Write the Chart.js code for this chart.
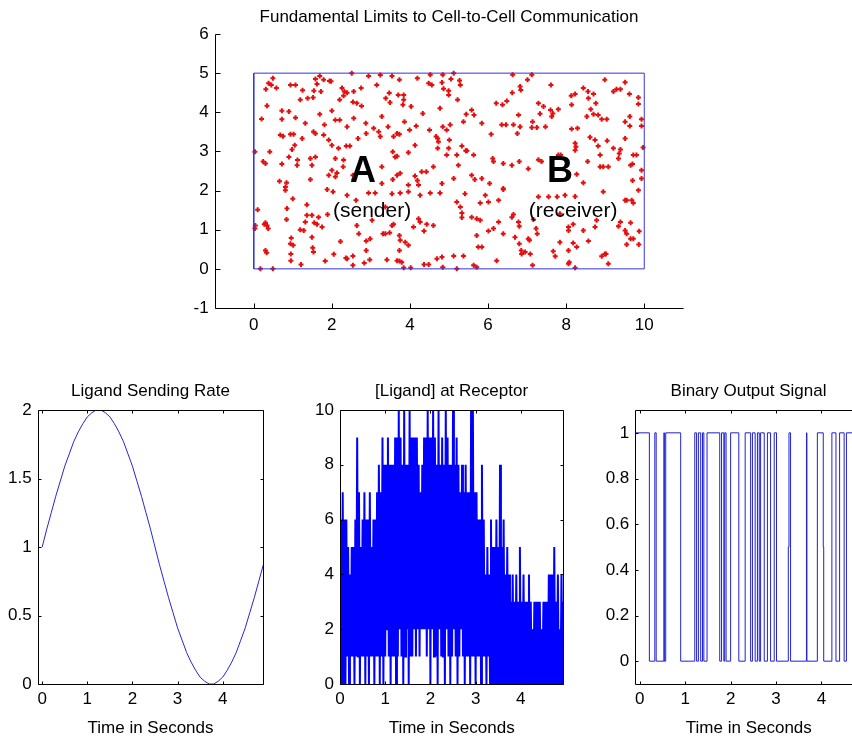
<!doctype html>
<html lang="en">
<head>
<meta charset="utf-8">
<title>Fundamental Limits to Cell-to-Cell Communication</title>
<script src="https://cdn.jsdelivr.net/npm/chart.js@4.4.0/dist/chart.umd.min.js"></script>
<style>
    html, body { margin: 0; padding: 0; background: #fff; overflow: hidden; }
    body { width: 852px; height: 740px; position: relative; }
    canvas { position: absolute; }
</style>
</head>
<body>
<canvas id="cellChart" width="898" height="340" style="left:0;top:0"></canvas>
<canvas id="rateChart" width="301" height="380" style="left:0;top:360px"></canvas>
<canvas id="ligandChart" width="323" height="380" style="left:290px;top:360px"></canvas>
<canvas id="binaryChart" width="337" height="380" style="left:580px;top:360px"></canvas>
<script>
// ---- data ----

// diffusing ligand molecules (x, y) in the 10 x 5 box
var molecules = [
    [0.49,4.87],[0.38,4.74],[0.45,4.70],[0.31,4.59],[0.58,4.62],[0.94,4.70],[1.07,4.70],[1.58,4.85],[1.69,4.93],[1.79,4.83],
    [1.94,4.80],[1.98,4.79],[1.62,4.72],[1.54,4.55],[1.72,4.53],[1.25,4.56],[2.51,5.00],[2.26,4.62],[2.32,4.53],[2.39,4.50],
    [2.56,4.53],[2.75,4.62],[2.94,4.93],[3.24,4.95],[3.54,4.93],[3.73,4.83],[3.15,4.70],[4.19,4.87],[4.52,4.96],[4.48,4.74],
    [4.56,4.70],[4.84,4.96],[4.82,4.76],[4.86,4.60],[5.12,5.00],[5.05,4.85],[5.27,4.81],[5.29,4.70],[4.99,4.55],[6.63,4.96],
    [7.12,4.96],[7.01,4.83],[6.82,4.66],[6.84,4.57],[6.62,4.50],[7.61,4.70],[8.44,4.62],[8.56,4.53],[8.99,4.83],[9.21,4.53],
    [9.29,4.59],[9.39,4.59],[9.51,4.77],[9.62,4.47],
    [0.34,4.17],[0.72,4.04],[0.90,4.02],[1.19,4.32],[1.38,4.36],[1.52,4.38],[2.20,4.32],[2.30,4.42],[2.64,4.23],[2.76,4.16],
    [2.54,4.26],[2.00,4.04],[3.38,4.36],[3.47,4.49],[3.49,4.25],[3.70,4.44],[3.84,4.44],[3.84,4.32],[3.82,4.19],[4.03,4.15],
    [4.33,3.97],[4.99,4.44],[5.22,4.32],[4.77,4.10],[6.21,4.23],[6.37,4.19],[6.48,4.29],[7.29,4.23],[7.42,4.15],[8.13,4.42],
    [8.23,4.47],[8.14,4.19],[8.70,4.47],[8.76,4.23],[8.63,4.08],[8.57,4.36],[9.85,4.38],[9.85,4.21],[7.60,4.06],
    [0.20,3.83],[0.72,3.82],[1.07,3.86],[1.32,3.72],[1.69,3.95],[1.81,3.68],[1.53,3.50],[2.09,3.80],[2.20,3.80],[2.39,3.63],
    [2.56,3.85],[2.87,3.72],[3.07,3.59],[3.28,3.89],[3.44,3.63],[3.86,3.76],[3.99,3.55],[4.16,3.65],[4.50,3.55],[4.84,3.63],
    [5.03,3.68],[4.94,3.55],[5.37,3.76],[5.44,3.95],[5.58,4.06],[5.64,3.93],[5.84,3.72],[6.35,3.68],[6.46,3.68],[6.65,3.68],
    [6.78,3.93],[6.82,3.63],[7.14,3.76],[7.12,3.61],[7.25,3.61],[7.33,3.96],[7.47,3.63],[7.63,3.89],[7.66,3.97],[7.80,4.08],
    [8.14,3.57],[8.29,3.59],[8.53,3.89],[8.70,3.95],[8.82,3.93],[8.91,3.82],[9.04,3.82],[9.51,3.76],[9.63,3.65],[9.63,3.89],
    [9.93,3.82],[9.93,3.65],
    [0.68,3.42],[0.75,3.39],[0.94,3.44],[1.02,3.44],[1.24,3.33],[1.05,3.16],[0.98,3.05],[1.58,3.46],[1.79,3.42],[1.92,3.29],
    [2.00,3.16],[2.17,3.08],[2.37,3.14],[2.46,3.14],[2.67,3.33],[2.88,3.46],[3.20,3.50],[3.24,3.38],[3.58,3.38],[3.67,3.46],
    [3.73,3.44],[3.56,2.99],[3.96,2.97],[4.13,3.16],[4.67,3.38],[4.71,3.33],[4.73,3.25],[4.71,3.08],[5.01,3.29],[4.99,3.08],
    [5.33,3.14],[5.43,3.02],[5.63,2.91],[6.08,3.44],[6.75,3.46],[8.23,3.21],[8.25,3.12],[8.23,3.03],[8.61,3.36],[8.74,3.29],
    [8.82,3.14],[8.87,2.91],[9.05,3.27],[9.21,3.08],[9.39,3.05],[9.36,2.95],[9.51,3.33],[9.72,2.91],[9.80,2.91],[9.97,3.10],
    [0.03,2.99],[0.41,2.99],
    [0.24,2.74],[0.30,2.69],[0.90,2.86],[0.72,2.68],[1.11,2.65],[1.12,2.78],[1.45,2.82],[1.58,2.86],[1.49,2.65],[2.00,2.52],
    [2.09,2.82],[2.30,2.78],[2.29,2.61],[3.28,2.61],[3.62,2.86],[3.67,2.88],[4.30,2.48],[4.60,2.61],[4.94,2.91],[5.20,2.91],
    [5.24,2.65],[5.46,3.02],[6.12,2.82],[6.14,2.74],[6.39,2.69],[6.61,2.65],[6.80,2.74],[7.03,2.56],[7.29,2.79],[7.37,2.74],
    [7.80,2.91],[7.86,2.91],[8.55,2.74],[8.87,2.61],[8.95,2.61],[9.08,2.61],[9.34,2.82],[9.65,2.65],[9.70,2.68],[9.93,2.52],
    [0.66,2.24],[0.84,2.20],[0.81,2.09],[1.45,2.28],[1.92,2.39],[2.09,2.35],[2.13,2.45],[2.56,2.28],[2.54,2.39],[3.28,2.18],
    [3.56,2.28],[3.67,2.39],[3.75,2.44],[3.96,2.14],[4.13,2.37],[4.19,2.26],[4.22,2.14],[4.42,2.48],[4.82,2.18],[5.12,2.31],
    [5.58,2.39],[5.66,2.28],[5.84,2.31],[6.04,2.18],[6.39,2.05],[8.27,2.42],[8.44,2.20],[8.95,1.97],[9.70,2.26],[9.93,2.31],
    [9.85,2.01],
    [0.81,2.01],[1.00,1.79],[0.85,1.54],[1.36,1.64],[1.88,2.03],[2.03,1.97],[2.39,1.88],[2.62,1.75],[2.94,1.94],[3.11,1.94],
    [3.37,1.58],[3.54,1.92],[3.75,1.94],[3.96,1.97],[4.26,1.88],[4.52,1.94],[4.77,1.94],[5.20,1.71],[5.41,1.92],[5.29,1.58],
    [5.80,1.68],[5.93,1.88],[6.01,1.71],[6.27,1.75],[6.39,2.03],[7.29,1.84],[7.55,1.84],[7.77,1.84],[7.97,1.88],[8.23,1.85],
    [9.51,1.75],[9.55,1.75],[9.68,1.75],[9.72,1.68],[0.10,1.51],
    [0.30,1.18],[0.27,1.14],[0.34,1.11],[0.37,1.03],[0.04,1.11],[0.03,1.03],[0.84,1.26],[1.36,1.37],[1.19,1.00],[1.28,0.98],
    [1.32,1.20],[1.55,1.18],[1.62,1.14],[1.49,1.37],[1.66,1.32],[1.75,1.07],[1.89,1.39],[2.64,1.11],[3.03,1.24],[3.31,0.90],
    [3.54,1.11],[3.58,1.14],[4.09,1.07],[4.22,1.28],[4.26,1.20],[4.36,0.97],[4.43,1.14],[4.60,1.11],[5.33,1.43],[5.33,1.31],
    [5.58,1.32],[5.71,1.28],[5.80,1.24],[5.71,0.85],[6.01,0.97],[6.14,1.03],[6.27,1.20],[6.39,0.90],[6.61,1.32],[6.65,1.39],
    [6.78,1.20],[6.80,1.09],[7.16,1.26],[7.23,1.03],[7.26,0.90],[7.84,1.41],[8.06,1.07],[8.06,0.98],[8.18,1.14],[8.44,0.98],
    [8.74,1.07],[8.78,1.24],[9.34,1.09],[9.39,1.20],[9.51,0.98],[9.55,0.90],[9.65,1.18],[9.87,0.96],
    [0.30,0.47],[0.33,0.41],[0.96,0.79],[0.94,0.64],[1.01,0.60],[0.95,0.38],[1.49,0.81],[1.51,0.54],[1.53,0.43],[2.22,0.70],
    [2.69,0.90],[2.88,0.71],[2.88,0.47],[2.98,0.77],[3.37,0.90],[3.48,0.92],[3.73,0.85],[3.75,0.73],[3.73,0.47],[3.88,0.68],
    [3.96,0.60],[5.75,0.56],[6.69,0.81],[6.80,0.64],[7.06,0.73],[7.03,0.77],[7.67,0.45],[7.84,0.68],[8.06,0.47],[8.18,0.66],
    [8.27,0.56],[8.57,0.71],[9.02,0.38],[9.55,0.62],[9.65,0.77],[9.72,0.77],[9.86,0.62],[6.85,0.47],[6.86,0.38],
    [0.17,0.00],[0.49,0.00],[0.95,0.21],[1.21,0.11],[1.83,0.20],[2.05,0.37],[2.36,0.28],[2.39,0.26],[2.54,0.33],[2.54,0.09],
    [2.83,0.15],[2.97,0.23],[3.41,0.23],[3.67,0.21],[3.73,0.20],[3.79,0.17],[3.84,0.03],[4.02,0.03],[4.36,0.11],[4.48,0.11],
    [4.69,0.26],[4.82,0.30],[4.84,0.04],[5.12,0.33],[5.20,0.00],[5.37,0.33],[5.63,0.09],[5.71,0.04],[5.84,0.56],[6.22,0.21],
    [6.95,0.43],[7.08,0.38],[7.14,0.09],[7.72,0.32],[8.06,0.13],[8.08,0.17],[8.23,0.03],[8.91,0.32],[8.99,0.38],[9.08,0.13]
];
var boundsX = [0, 10, 10, 0, 0];
var boundsY = [0, 0, 5, 5, 0];
var cellNames = ['A', 'B'];
var cellRoles = ['(sender)', '(receiver)'];
var cellNameX = [2.80, 7.84];
var cellRoleX = [3.03, 8.18];
var cellNameY = 2.48;
var cellRoleY = 1.47;

// sending rate, sampled every 0.1 s
var rateTimes = [0,0.1,0.2,0.3,0.4,0.5,0.6,0.7,0.8,0.9,1,1.1,1.2,1.3,1.4,1.5,1.6,1.7,1.8,1.9,
    2,2.1,2.2,2.3,2.4,2.5,2.6,2.7,2.8,2.9,3,3.1,3.2,3.3,3.4,3.5,3.6,3.7,3.8,3.9,
    4,4.1,4.2,4.3,4.4,4.5,4.6,4.7,4.8,4.9];
var rateValues = [1.00,1.13,1.25,1.37,1.48,1.59,1.68,1.77,1.84,1.90,1.95,1.98,2.00,2.00,1.98,1.95,1.90,1.84,1.77,1.68,
    1.59,1.48,1.37,1.25,1.13,1.00,0.87,0.75,0.63,0.52,0.41,0.32,0.23,0.16,0.10,0.05,0.02,0.00,0.00,0.02,
    0.05,0.10,0.16,0.23,0.32,0.41,0.52,0.63,0.75,0.87];

// ligand count at the receptor: low / high sample in each 0.04 s slot
var ligandSlot = 0.04;
var ligandLow = [0,0,0,0, 1,0,1,1, 0,1,1,0,1,1,0,1,0,1,1,0, 1,1,0, 1,0,1,2,1,0,1,1,
    0,1,2,1,0,1,2,0,1, 1,2,1, 2,1,2, 2,2,1,2,0,2,1, 1,0,2,1,1,0,2,1,0,1,2,1,0,
    1,2,1,0,1,1,0, 1,1,0,1, 1,0,1, 1,0,1,0,0,0,0,0,0,0,0,0,0,0,
    0,0,0,0,0,0,0,0,0,0,0, 0,0,0,0,0,0,0,0,0,0, 0,0,0, 0,0,0,0,0,0];
var ligandHigh = [6,7,6,6, 5,4,5,5, 6,9,7,5,6,7,6,6,7,5,6,6, 7,8,7, 9,8,8,9,8,8,8,9,
    9,10,9,8,10,8,8,10,9, 9,9,9, 8,7,8, 9,9,10,9,9,10,9, 8,10,8,9,8,10,9,8,8,10,8,9,8,
    7,8,7,8,7,7,10, 10,7,7,6, 6,8,6, 4,5,4,6,5,5,6,5,8,5,6,4,5,4,
    3,4,3,4,3,5,3,4,3,3,4, 3,2,3,3,3,3,2,3,3,3, 4,4,4, 5,3,4,2,4,3];

// binary output: switching times and the level held from each one
var binaryTimes = [-0.1,0.21,0.33,0.36,0.53,0.54,0.57,0.90,1.21,1.25,1.29,1.34,1.38,1.41,1.48,1.76,1.80,1.85,1.87,1.90,
    2.00,2.18,2.32,2.44,2.48,2.54,2.59,2.63,2.66,2.74,2.81,2.88,2.96,3.01,3.27,3.285,3.32,3.67,3.68,3.91,
    4.04,4.05,4.23,4.32,4.40,4.50,4.55,4.90];
var binaryValues = [1,0,1,0,1,0,1,0,1,0,1,0,1,0,1,0,1,0,1,0,
    1,0,1,0,1,0,1,0,1,0,1,0,1,0,0.5,1,0,1,0,1,
    0.5,0,1,0,1,0,1,1];

var timeTicks = [0, 1, 2, 3, 4];

// ---- drawing ----
var fontFamily = '"Liberation Sans", Arial, Helvetica, sans-serif';
Chart.defaults.font.family = fontFamily;
Chart.defaults.font.size = 17;
Chart.defaults.color = '#000';
Chart.defaults.animation = false;
Chart.defaults.events = [];
Chart.defaults.plugins.legend.display = false;
Chart.defaults.plugins.tooltip.enabled = false;

// matlab style axes: ticks pointing inwards, optional box
var matlabAxes = {
    id: 'matlabAxes',
    afterDatasetsDraw: function (chart, args, opts) {
        var ctx = chart.ctx, a = chart.chartArea, x = chart.scales.x, y = chart.scales.y;
        var len = opts.tickLength;
        var al = function (v) { return Math.round(v) + 0.5; };
        var L = al(a.left), R = al(a.right), T = al(a.top), B = al(a.bottom);
        ctx.save();
        ctx.strokeStyle = '#000';
        ctx.lineWidth = 1;
        ctx.beginPath();
        x.ticks.forEach(function (t) {
            var px = al(x.getPixelForValue(t.value));
            ctx.moveTo(px, B); ctx.lineTo(px, B - len);
            if (opts.box) { ctx.moveTo(px, T); ctx.lineTo(px, T + len); }
        });
        y.ticks.forEach(function (t) {
            var py = al(y.getPixelForValue(t.value));
            ctx.moveTo(L, py); ctx.lineTo(L + len, py);
            if (opts.box) { ctx.moveTo(R, py); ctx.lineTo(R - len, py); }
        });
        ctx.moveTo(L, T); ctx.lineTo(L, B); ctx.lineTo(R, B);
        if (opts.box) { ctx.lineTo(R, T); ctx.lineTo(L, T); }
        ctx.stroke();
        ctx.restore();
    }
};

var cellLabels = {
    id: 'cellLabels',
    afterDatasetsDraw: function (chart) {
        var ctx = chart.ctx, x = chart.scales.x, y = chart.scales.y;
        ctx.save();
        ctx.fillStyle = '#000';
        ctx.textAlign = 'center';
        ctx.textBaseline = 'middle';
        ctx.font = 'bold 36px ' + fontFamily;
        cellNames.forEach(function (n, i) {
            ctx.fillText(n, x.getPixelForValue(cellNameX[i]), y.getPixelForValue(cellNameY));
        });
        ctx.font = '21px ' + fontFamily;
        cellRoles.forEach(function (n, i) {
            ctx.fillText(n, x.getPixelForValue(cellRoleX[i]), y.getPixelForValue(cellRoleY));
        });
        ctx.restore();
    }
};

function axis(min, max, tickValues, size, horizontal, padding, title) {
    var o = {
        type: 'linear',
        min: min,
        max: max,
        grid: { display: false, drawTicks: false },
        border: { display: false },
        ticks: {
            padding: padding,
            autoSkip: false,
            maxRotation: 0,
            color: '#000',
            font: { size: 17 },
            callback: function (v) { return String(v); }
        },
        afterBuildTicks: function (s) { s.ticks = tickValues.map(function (v) { return { value: v }; }); },
        afterFit: function (s) { if (horizontal) s.height = size; else s.width = size; }
    };
    if (title) {
        o.title = { display: true, text: title, color: '#000', font: { size: 17 }, padding: { top: 1, bottom: 1 } };
    }
    return o;
}

// empty right hand axis so the title centres over the plot area
function spacer(width) {
    return {
        position: 'right',
        display: true,
        grid: { display: false, drawTicks: false },
        border: { display: false },
        ticks: { display: false },
        afterFit: function (s) { s.width = width; }
    };
}

function titleOpts(text, top, bottom) {
    return { display: true, text: text, color: '#000', font: { size: 17, weight: 'normal' }, padding: { top: top, bottom: bottom } };
}

function pairs(xs, ys) {
    return xs.map(function (v, i) { return { x: v, y: ys[i] }; });
}

// top: the two cells and the molecules between them
new Chart(document.getElementById('cellChart'), {
    type: 'scatter',
    data: {
        datasets: [{
            data: pairs(boundsX, boundsY),
            showLine: true,
            borderColor: '#3434d8',
            borderWidth: 1,
            pointRadius: 0
        }, {
            data: molecules.map(function (m) { return { x: m[0], y: m[1] }; }),
            pointStyle: 'cross',
            pointRadius: 2.5,
            pointBorderWidth: 2,
            pointBorderColor: '#e41010',
            pointBackgroundColor: '#e41010'
        }]
    },
    options: {
        responsive: false,
        layout: { padding: 0 },
        plugins: {
            title: titleOpts('Fundamental Limits to Cell-to-Cell Communication', 7, 6.6),
            matlabAxes: { tickLength: 5, box: false }
        },
        scales: {
            x: axis(-1, 11, [0, 2, 4, 6, 8, 10], 32, true, 7),
            y: axis(-1, 6, [-1, 0, 1, 2, 3, 4, 5, 6], 214.7, false, 6),
            pad: spacer(214.7)
        }
    },
    plugins: [matlabAxes, cellLabels]
});

new Chart(document.getElementById('rateChart'), {
    type: 'scatter',
    data: {
        datasets: [{
            data: pairs(rateTimes, rateValues),
            showLine: true,
            borderColor: '#2626d0',
            borderWidth: 1,
            pointRadius: 0
        }]
    },
    options: {
        responsive: false,
        plugins: {
            title: titleOpts('Ligand Sending Rate', 21, 8.6),
            matlabAxes: { tickLength: 3, box: true }
        },
        scales: {
            x: axis(-0.1, 4.9, timeTicks, 56, true, 5, 'Time in Seconds'),
            y: axis(0, 2, [0, 0.5, 1, 1.5, 2], 37.7, false, 6),
            pad: spacer(37.7)
        }
    },
    plugins: [matlabAxes]
});

var ligandPoints = [];
ligandLow.forEach(function (v, k) {
    ligandPoints.push({ x: k * ligandSlot, y: v });
    ligandPoints.push({ x: k * ligandSlot + ligandSlot / 2, y: ligandHigh[k] });
});

new Chart(document.getElementById('ligandChart'), {
    type: 'scatter',
    data: {
        datasets: [{
            data: ligandPoints,
            showLine: true,
            borderColor: '#0000ff',
            borderWidth: 2,
            pointRadius: 0
        }]
    },
    options: {
        responsive: false,
        plugins: {
            title: titleOpts('[Ligand] at Receptor', 21, 8.6),
            matlabAxes: { tickLength: 3, box: true }
        },
        scales: {
            x: axis(0, 4.94, timeTicks, 56, true, 5, 'Time in Seconds'),
            y: axis(0, 10, [0, 2, 4, 6, 8, 10], 50, false, 6),
            pad: spacer(49.7)
        }
    },
    plugins: [matlabAxes]
});

new Chart(document.getElementById('binaryChart'), {
    type: 'scatter',
    data: {
        datasets: [{
            data: pairs(binaryTimes, binaryValues),
            showLine: true,
            stepped: true,
            borderColor: '#2020d0',
            borderWidth: 1,
            pointRadius: 0
        }]
    },
    options: {
        responsive: false,
        plugins: {
            title: titleOpts('Binary Output Signal', 21, 8.6),
            matlabAxes: { tickLength: 3, box: true }
        },
        scales: {
            x: axis(-0.1, 4.9, timeTicks, 56, true, 5, 'Time in Seconds'),
            y: axis(-0.1, 1.1, [0, 0.2, 0.4, 0.6, 0.8, 1], 55.3, false, 6),
            pad: spacer(54.7)
        }
    },
    plugins: [matlabAxes]
});
</script>
</body>
</html>
